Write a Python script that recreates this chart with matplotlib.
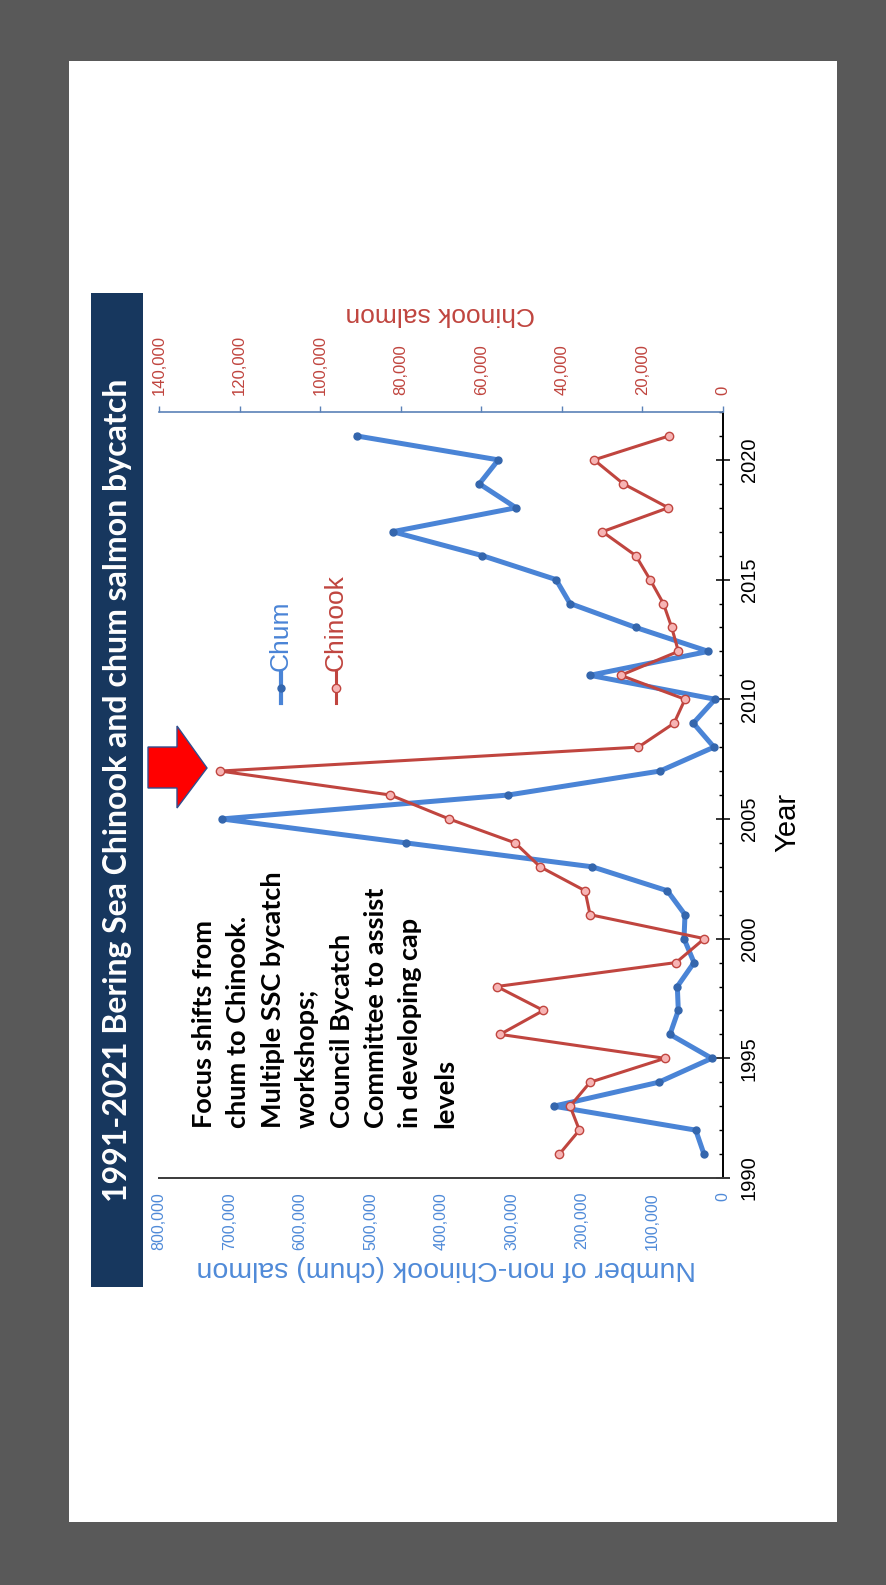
import matplotlib
matplotlib.use("Agg")
import matplotlib.pyplot as plt
from matplotlib.patches import Rectangle, Polygon
from matplotlib.lines import Line2D
from matplotlib.ticker import FuncFormatter, MultipleLocator
import numpy as np

# ---------------- data ----------------
years = list(range(1991, 2022))
chum = [27000, 38700, 240000, 91200, 16000, 75200, 63400, 64800, 41100, 55300,
        53900, 79000, 185400, 450100, 711100, 304500, 89400, 12800, 42100, 11300,
        188700, 20800, 123900, 217000, 236900, 341400, 468500, 293600, 345600,
        318700, 519600]
chinook = [40600, 35650, 37960, 33000, 14390, 55330, 44580, 56150, 11660, 4630,
           33000, 34240, 45400, 51600, 68000, 82600, 124800, 21010, 12150, 9430,
           25390, 11080, 12730, 14800, 18110, 21660, 29940, 13570, 24730, 32000,
           13400]
chum_ticks = list(range(0, 800001, 100000))
chinook_ticks = list(range(0, 140001, 20000))
year_major = list(range(1990, 2021, 5))

title = "1991-2021 Bering Sea Chinook and chum salmon bycatch"
note = ("Focus shifts from\nchum to Chinook.\nMultiple SSC bycatch\nworkshops;\n"
        "Council Bycatch\nCommittee to assist\nin developing cap\nlevels")

# ---------------- style ----------------
W, H = 887, 1585
BLUE = "#4a84d6"
BLUE_DARK = "#3466ad"
BLUE_TXT = "#4f8ad8"
RED = "#c0453f"
RED_TXT = "#c0453f"
PINK = "#f7b4b4"
NAVY = "#17375e"
GRAY_BG = "#595959"
AXIS_BLUE = "#5b82b8"

plt.rcParams['font.family'] = ['Liberation Sans', 'DejaVu Sans']

fig = plt.figure(figsize=(W / 100, H / 100), dpi=100, facecolor=GRAY_BG)

def fx(px):
    return px / W

def fy(py):
    return 1 - py / H

# white page
fig.add_artist(Rectangle((fx(69), fy(1522)), fx(837) - fx(69), fy(61) - fy(1522),
                         transform=fig.transFigure, facecolor="white",
                         edgecolor="none", zorder=-10))
# title bar
fig.add_artist(Rectangle((fx(91), fy(1287)), fx(143) - fx(91), fy(293) - fy(1287),
                         transform=fig.transFigure, facecolor=NAVY,
                         edgecolor="none", zorder=-9))
fig.text(fx(118), fy(790), title, rotation=90, ha="center", va="center",
         color="white", fontsize=23, fontweight="bold", family=["Lato", "DejaVu Sans"])

# main axes: chum on x (inverted), year on y
L, R, T, B = 159, 723, 412, 1178
ax = fig.add_axes([fx(L), fy(B), fx(R) - fx(L), fy(T) - fy(B)])
ax.patch.set_visible(False)
ax.plot(chum, years, color=BLUE, lw=3.6, marker="o", ms=5,
        mfc=BLUE_DARK, mec=BLUE_DARK, solid_joinstyle="round", zorder=3)
ax.set_xlim(800000, 0)
ax.set_ylim(1990, 2022)
ax.set_xticks(chum_ticks)
ax.xaxis.set_major_formatter(FuncFormatter(lambda v, p: f"{int(v):,}"))
ax.tick_params(axis="x", length=0, pad=10, labelsize=11.5, labelcolor=BLUE_TXT,
               labelrotation=90)
ax.yaxis.tick_right()
ax.set_yticks(year_major)
ax.yaxis.set_minor_locator(MultipleLocator(1))
ax.tick_params(axis="y", which="major", direction="inout", length=10, width=1.1,
               color="black", pad=7, labelsize=14.5, labelrotation=90)
ax.tick_params(axis="y", which="minor", direction="in", length=3, width=1.0,
               color="black")
for lab in ax.get_yticklabels():
    lab.set_va("center")
for s in ("top", "left"):
    ax.spines[s].set_visible(False)
ax.spines["bottom"].set_color("#3a3a3a")
ax.spines["bottom"].set_linewidth(1.4)
ax.spines["right"].set_color("black")
ax.spines["right"].set_linewidth(1.4)

# chinook axis on top
ax2 = ax.twiny()
ax2.patch.set_visible(False)
ax2.plot(chinook, years, color=RED, lw=2.2, marker="o", ms=6,
         mfc=PINK, mec=RED, mew=1.0, zorder=4)
ax2.set_xlim(140000, 0)
ax2.set_ylim(1990, 2022)
ax2.set_xticks(chinook_ticks)
ax2.xaxis.set_major_formatter(FuncFormatter(lambda v, p: f"{int(v):,}"))
ax2.tick_params(axis="x", direction="out", length=4, width=1.0, color=AXIS_BLUE,
                pad=8, labelsize=12, labelcolor=RED_TXT, labelrotation=90)
for s in ("bottom", "left", "right"):
    ax2.spines[s].set_visible(False)
ax2.spines["top"].set_color(AXIS_BLUE)
ax2.spines["top"].set_linewidth(1.2)

# axis titles
fig.text(fx(446), fy(1268), "Number of non-Chinook (chum) salmon", rotation=180,
         ha="center", va="center", color=BLUE_TXT, fontsize=20.5)
fig.text(fx(440), fy(314), "Chinook salmon", rotation=180, ha="center",
         va="center", color=RED_TXT, fontsize=19)
fig.text(fx(787), fy(822), "Year", rotation=90, ha="center", va="center",
         color="black", fontsize=21)

# legend (drawn vertically)
for xc, col, mfc, ms, lw, label in [(281, BLUE, BLUE_DARK, 5, 3.0, "Chum"),
                                    (336, RED, PINK, 6, 2.2, "Chinook")]:
    fig.add_artist(Line2D([fx(xc), fx(xc)], [fy(703), fy(672)], transform=fig.transFigure,
                          color=col, lw=lw, zorder=5))
    fig.add_artist(Line2D([fx(xc)], [fy(688)], transform=fig.transFigure,
                          marker="o", ms=ms, mfc=mfc, mec=(BLUE_DARK if col == BLUE else RED),
                          color=col, zorder=6))
    fig.text(fx(xc), fy(671), label, rotation=90, ha="center", va="bottom",
             color=col, fontsize=19)

# red arrow
arrow_pts = [(148, 747), (177, 747), (177, 726), (207, 768), (177, 808),
             (177, 788), (148, 788)]
fig.add_artist(Polygon([(fx(x), fy(y)) for x, y in arrow_pts], closed=True,
                       transform=fig.transFigure, facecolor="#ff0000",
                       edgecolor="#2f4f8f", lw=1.0, zorder=6))

# annotation
fig.text(fx(192), fy(1128), note, rotation=90, ha="left", va="bottom",
         multialignment="left", linespacing=1.52, color="black", fontsize=19.5,
         fontweight="bold", family=["Lato", "DejaVu Sans"])

fig.savefig("out.png", dpi=100, facecolor=GRAY_BG)
